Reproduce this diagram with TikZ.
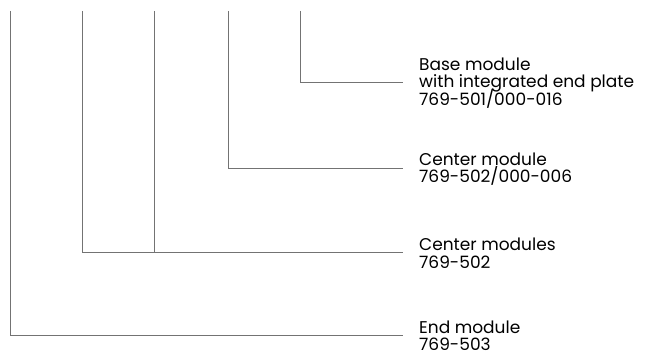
\documentclass[tikz,border=0pt]{standalone}
\usepackage{fontspec}
\setmainfont{Poppins}
\newcommand\lblfont{\fontsize{17}{17.5}\selectfont\lineskiplimit=-20pt\relax}
\begin{document}
\begin{tikzpicture}[
    x=1pt, y=-1pt,
    lbl/.style={anchor=west, align=left, inner xsep=16pt, inner ysep=0pt,
                font=\lblfont, text=black},
    lead/.style={draw=black!55, line width=1pt},
  ]
  \useasboundingbox (0,0) rectangle (646,358);
  % upper ends of the leader lines
  \coordinate (t1) at (10,11);
  \coordinate (t2) at (82,11);
  \coordinate (t3) at (154,11);
  \coordinate (t4) at (228,11);
  \coordinate (t5) at (300,11);
  \node[lbl] (base) at (403,83) {Base module\\with integrated end plate\\769-501/000-016};
  \node[lbl] (center) at (403,169) {Center module\\769-502/000-006};
  \node[lbl] (centers) at (403,253) {Center modules\\769-502};
  \node[lbl] (endmod) at (403,336) {End module\\769-503};
  \draw[lead] (t5) |- (base.west);
  \draw[lead] (t4) |- (center.west);
  \draw[lead] (t2) |- (centers.west);
  \draw[lead] (t3) -- (t3 |- centers.west);
  \draw[lead] (t1) |- (endmod.west);
\end{tikzpicture}
\end{document}
